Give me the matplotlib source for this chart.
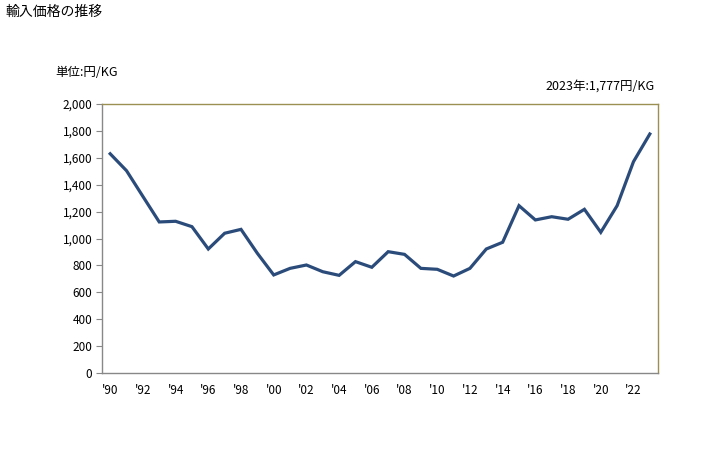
import matplotlib
matplotlib.use('Agg')
from matplotlib import pyplot as plt
from matplotlib.ticker import FuncFormatter

plt.rcParams['font.family'] = ['Noto Sans CJK JP', 'DejaVu Sans']

# Data
years = list(range(1990, 2024))
prices = [1630, 1504, 1313, 1123, 1128, 1088, 922, 1039, 1068, 890,
          729, 778, 803, 753, 726, 828, 786, 902, 882, 778,
          771, 721, 778, 922, 972, 1244, 1138, 1162, 1143, 1217,
          1046, 1244, 1571, 1777]
tick_years = list(range(1990, 2023, 2))
tick_labels = ["'%02d" % (y % 100) for y in tick_years]

fig = plt.figure(figsize=(7.28, 4.5), dpi=100)
ax = fig.add_axes([102/728, 1-373/450, 556/728, 269/450])

ax.plot(years, prices, color='#2b4c7a', linewidth=2.3, solid_joinstyle='miter')

ax.set_xlim(1989.5, 2023.5)
ax.set_ylim(0, 2000)
ax.set_yticks(range(0, 2001, 200))
ax.yaxis.set_major_formatter(FuncFormatter(lambda v, p: '{:,}'.format(int(v))))
ax.set_xticks(tick_years)
ax.set_xticklabels(tick_labels)

ax.tick_params(axis='y', direction='out', length=4, color='#888888', labelsize=8.5, pad=3)
ax.tick_params(axis='x', length=0, labelsize=8.5, pad=8)

ax.spines['left'].set_color('#888888')
ax.spines['bottom'].set_color('#888888')
ax.spines['top'].set_color('#9c8f52')
ax.spines['right'].set_color('#9c8f52')
for s in ax.spines.values():
    s.set_linewidth(1.0)

fig.text(5/728, 1-12/450, '輸入価格の推移', fontsize=10, va='center', ha='left')
fig.text(55/728, 1-73/450, '単位:円/KG', fontsize=9, va='center', ha='left')
fig.text(655/728, 1-86/450, '2023年:1,777円/KG', fontsize=9, va='center', ha='right')

fig.savefig('out.png', dpi=100)
